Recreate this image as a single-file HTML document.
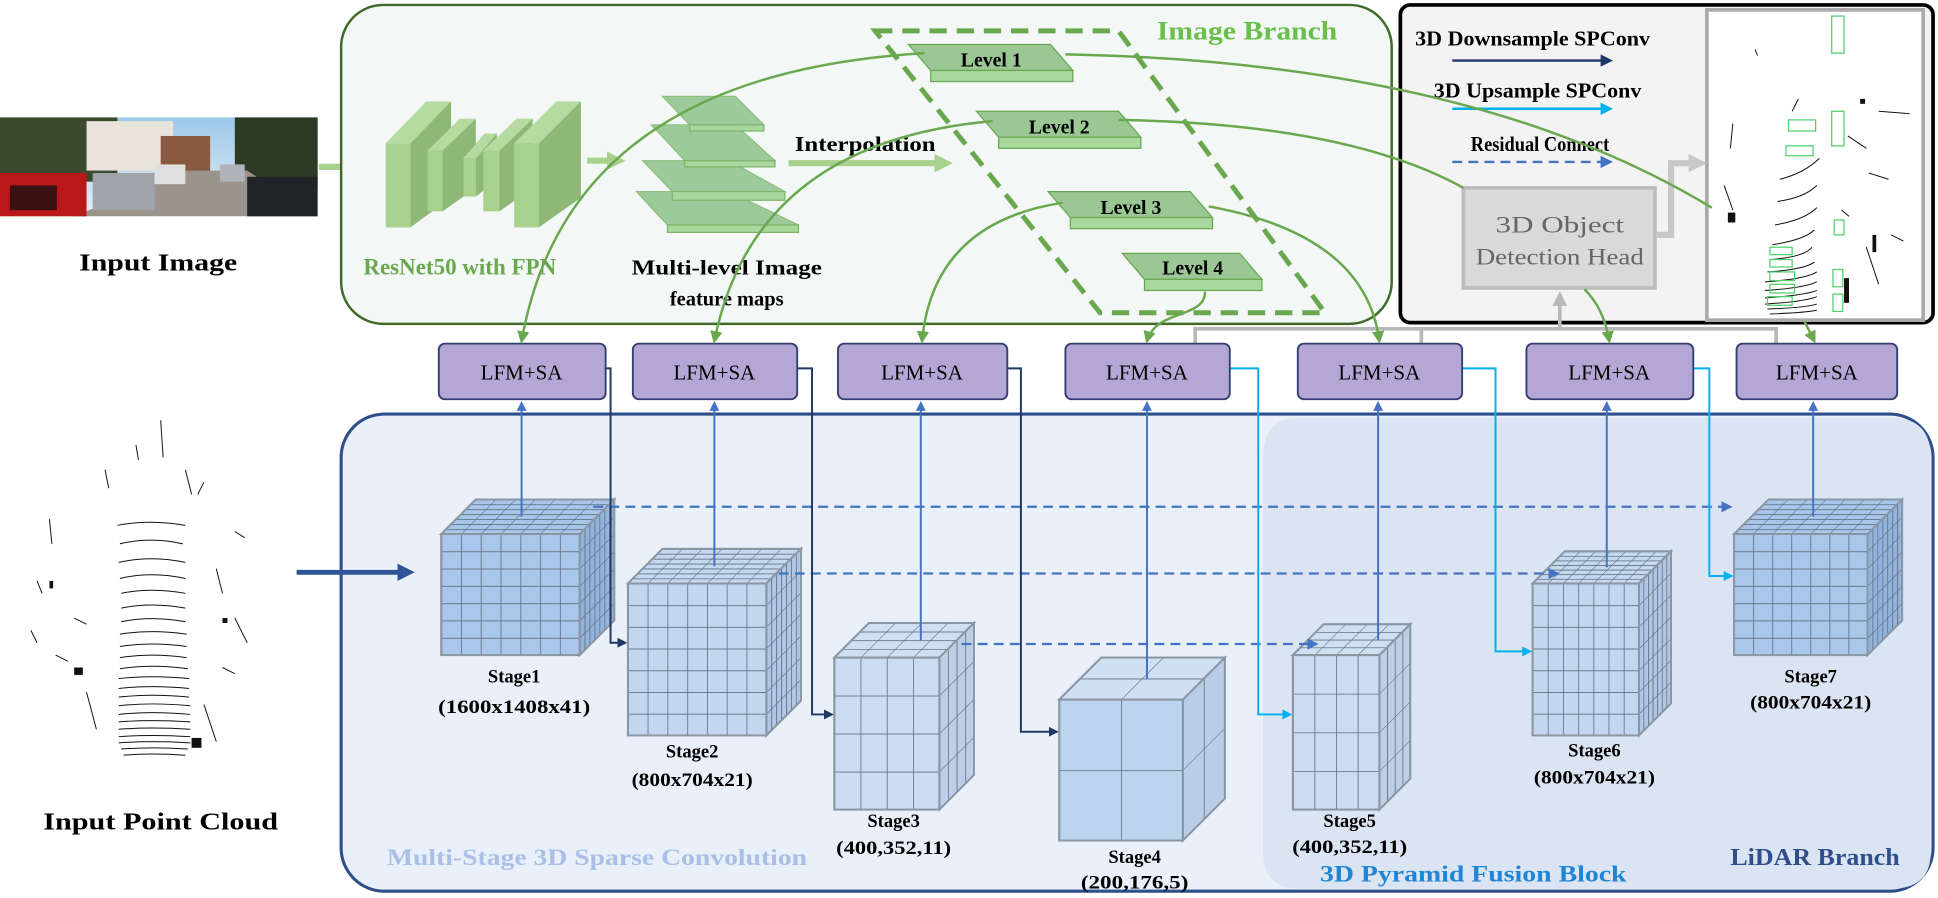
<!DOCTYPE html>
<html><head><meta charset="utf-8">
<style>
html,body{margin:0;padding:0;background:#fff;}
svg{display:block;}
text{font-family:"Liberation Serif",serif;}
.b{font-weight:bold;}
</style></head><body>
<svg width="1938" height="898" viewBox="0 0 1568 726.5" preserveAspectRatio="none" xmlns="http://www.w3.org/2000/svg">
<defs>
<marker id="mg" viewBox="0 0 10 10" refX="8" refY="5" markerWidth="5" markerHeight="5" orient="auto"><path d="M0,0L10,5L0,10z" fill="#6aa84f"/></marker>
<marker id="mb" viewBox="0 0 10 10" refX="8" refY="5" markerWidth="5" markerHeight="5" orient="auto"><path d="M0,0L10,5L0,10z" fill="#4472c4"/></marker>
<marker id="mn" viewBox="0 0 10 10" refX="8" refY="5" markerWidth="5" markerHeight="5" orient="auto"><path d="M0,0L10,5L0,10z" fill="#1f3864"/></marker>
<marker id="mc" viewBox="0 0 10 10" refX="8" refY="5" markerWidth="5" markerHeight="5" orient="auto"><path d="M0,0L10,5L0,10z" fill="#00b0f0"/></marker>
<marker id="mgr" viewBox="0 0 10 10" refX="8" refY="5" markerWidth="4" markerHeight="4" orient="auto"><path d="M0,0L10,5L0,10z" fill="#b8b8b8"/></marker>
<marker id="mlg" viewBox="0 0 10 10" refX="6" refY="5" markerWidth="3" markerHeight="3" orient="auto"><path d="M0,0L10,5L0,10z" fill="#a9d18e"/></marker>
<marker id="mbig" viewBox="0 0 10 10" refX="6" refY="5" markerWidth="3.5" markerHeight="3.5" orient="auto"><path d="M0,0L10,5L0,10z" fill="#2f5597"/></marker>
<marker id="mgrey" viewBox="0 0 10 10" refX="6" refY="5" markerWidth="3" markerHeight="3" orient="auto"><path d="M0,0L10,5L0,10z" fill="#c8c8c8"/></marker>

<g stroke="#5f6f80" stroke-width="1.3" fill="none">
<pattern id="p1f" patternUnits="userSpaceOnUse" x="357" y="432" width="16" height="14"><path d="M0 0H16M0 0V14"/></pattern>
<pattern id="p1t" patternUnits="userSpaceOnUse" x="789" y="432" width="16" height="4" patternTransform="skewX(-45)"><path d="M0 0H16M0 0V4"/></pattern>
<pattern id="p1s" patternUnits="userSpaceOnUse" x="469" y="901" width="4" height="14" patternTransform="skewY(-45)"><path d="M0 0H4M0 0V14"/></pattern>
<pattern id="p2f" patternUnits="userSpaceOnUse" x="508" y="472" width="16" height="17.57"><path d="M0 0H16M0 0V17.57"/></pattern>
<pattern id="p2t" patternUnits="userSpaceOnUse" x="980" y="472" width="16" height="4" patternTransform="skewX(-45)"><path d="M0 0H16M0 0V4"/></pattern>
<pattern id="p2s" patternUnits="userSpaceOnUse" x="620" y="1092" width="4" height="17.57" patternTransform="skewY(-45)"><path d="M0 0H4M0 0V17.57"/></pattern>
<pattern id="p3f" patternUnits="userSpaceOnUse" x="675" y="532" width="21.25" height="30.75"><path d="M0 0H21.25M0 0V30.75"/></pattern>
<pattern id="p3t" patternUnits="userSpaceOnUse" x="1207" y="532" width="21.25" height="7" patternTransform="skewX(-45)"><path d="M0 0H21.25M0 0V7"/></pattern>
<pattern id="p3s" patternUnits="userSpaceOnUse" x="760" y="1292" width="7" height="30.75" patternTransform="skewY(-45)"><path d="M0 0H7M0 0V30.75"/></pattern>
<pattern id="p4f" patternUnits="userSpaceOnUse" x="857" y="566" width="50" height="57"><path d="M0 0H50M0 0V57"/></pattern>
<pattern id="p4t" patternUnits="userSpaceOnUse" x="1423" y="566" width="50" height="17" patternTransform="skewX(-45)"><path d="M0 0H50M0 0V17"/></pattern>
<pattern id="p4s" patternUnits="userSpaceOnUse" x="957" y="1523" width="17" height="57" patternTransform="skewY(-45)"><path d="M0 0H17M0 0V57"/></pattern>
<pattern id="p5f" patternUnits="userSpaceOnUse" x="1046" y="530" width="17.5" height="31.25"><path d="M0 0H17.5M0 0V31.25"/></pattern>
<pattern id="p5t" patternUnits="userSpaceOnUse" x="1576" y="530" width="17.5" height="6.25" patternTransform="skewX(-45)"><path d="M0 0H17.5M0 0V6.25"/></pattern>
<pattern id="p5s" patternUnits="userSpaceOnUse" x="1116" y="1646" width="6.25" height="31.25" patternTransform="skewY(-45)"><path d="M0 0H6.25M0 0V31.25"/></pattern>
<pattern id="p6f" patternUnits="userSpaceOnUse" x="1240" y="472" width="12.29" height="17.57"><path d="M0 0H12.29M0 0V17.57"/></pattern>
<pattern id="p6t" patternUnits="userSpaceOnUse" x="1712" y="472" width="12.29" height="3.71" patternTransform="skewX(-45)"><path d="M0 0H12.29M0 0V3.71"/></pattern>
<pattern id="p6s" patternUnits="userSpaceOnUse" x="1326" y="1798" width="3.71" height="17.57" patternTransform="skewY(-45)"><path d="M0 0H3.71M0 0V17.57"/></pattern>
<pattern id="p7f" patternUnits="userSpaceOnUse" x="1403" y="432" width="15.43" height="14"><path d="M0 0H15.43M0 0V14"/></pattern>
<pattern id="p7t" patternUnits="userSpaceOnUse" x="1835" y="432" width="15.43" height="4" patternTransform="skewX(-45)"><path d="M0 0H15.43M0 0V4"/></pattern>
<pattern id="p7s" patternUnits="userSpaceOnUse" x="1511" y="1943" width="4" height="14" patternTransform="skewY(-45)"><path d="M0 0H4M0 0V14"/></pattern>
</g>
<linearGradient id="sky" x1="0" y1="0" x2="0" y2="1"><stop offset="0" stop-color="#9cc8ea"/><stop offset="1" stop-color="#e6eef2"/></linearGradient>
</defs>

<!-- Input image photo -->
<rect x="0" y="95" width="257" height="80" fill="url(#sky)"/>
<rect x="0" y="95" width="95" height="52" fill="#3b4a2c"/>
<rect x="70" y="98" width="70" height="40" fill="#e8e4dc"/>
<rect x="130" y="110" width="40" height="30" fill="#8a5a40"/>
<rect x="190" y="95" width="67" height="55" fill="#2c3a24"/>
<polygon points="60,175 150,138 200,138 257,175" fill="#9a948c"/>
<rect x="0" y="140" width="70" height="35" fill="#b81818"/>
<rect x="8" y="150" width="38" height="20" fill="#3a1010"/>
<rect x="75" y="140" width="50" height="30" fill="#9ea4aa"/>
<rect x="125" y="133" width="25" height="16" fill="#e0e0e0"/>
<rect x="200" y="143" width="57" height="32" fill="#1f2526"/>
<rect x="178" y="133" width="20" height="14" fill="#b0b4b8"/>
<text x="128" y="219" class="b" font-size="20" text-anchor="middle" textLength="128" lengthAdjust="spacingAndGlyphs">Input Image</text>
<line x1="258" y1="135" x2="305" y2="135" stroke="#a9d18e" stroke-width="5" marker-end="url(#mlg)"/>

<!-- Image Branch box -->
<rect x="276" y="4" width="850" height="258" rx="34" fill="#f3f8f6" stroke="#3f6b2a" stroke-width="2"/>
<text x="1082" y="32" font-size="21" fill="#6abf4b" class="b" text-anchor="end" textLength="146" lengthAdjust="spacingAndGlyphs">Image Branch</text>

<!-- ResNet slabs -->
<g>
<polygon points="312,116 345,82 365,82 332,116" fill="#b6dba0"/>
<rect x="312" y="116" width="20" height="68" fill="#a9d18e"/>
<polygon points="332,116 365,82 365,160 332,184" fill="#8fb877"/>
<polygon points="346,122 372,96 385,96 358,122" fill="#b6dba0"/>
<rect x="346" y="122" width="12" height="49" fill="#a9d18e"/>
<polygon points="358,122 385,96 385,152 358,171" fill="#8fb877"/>
<polygon points="375,128 392,108 402,108 385,128" fill="#b6dba0"/>
<rect x="375" y="128" width="10" height="31" fill="#a9d18e"/>
<polygon points="385,128 402,108 402,146 385,159" fill="#8fb877"/>
<polygon points="391,122 418,96 431,96 404,122" fill="#b6dba0"/>
<rect x="391" y="122" width="13" height="49" fill="#a9d18e"/>
<polygon points="404,122 431,96 431,152 404,171" fill="#8fb877"/>
<polygon points="416,116 450,82 470,82 436,116" fill="#b6dba0"/>
<rect x="416" y="116" width="20" height="68" fill="#a9d18e"/>
<polygon points="436,116 470,82 470,160 436,184" fill="#8fb877"/>
</g>
<text x="372" y="222" font-size="19" fill="#6aa84f" class="b" text-anchor="middle" textLength="156" lengthAdjust="spacingAndGlyphs">ResNet50 with FPN</text>
<line x1="475" y1="130" x2="500" y2="130" stroke="#a9d18e" stroke-width="5" marker-end="url(#mlg)"/>

<!-- feature map slabs -->
<g stroke="#7fb36a" stroke-width="1">
<polygon points="515,155 590,155 646,182 540,182" fill="#8fc38a" opacity="0.85"/><rect x="540" y="182" width="106" height="6" fill="#a9d89e"/>
<polygon points="520,130 590,130 635,155 544,155" fill="#8fc38a" opacity="0.85"/><rect x="544" y="155" width="91" height="7" fill="#a9d89e"/>
<polygon points="527,101 595,101 627,130 554,130" fill="#8fc38a" opacity="0.85"/><rect x="554" y="130" width="73" height="5" fill="#a9d89e"/>
<polygon points="536,78 595,78 618,101 558,101" fill="#8fc38a" opacity="0.85"/><rect x="558" y="101" width="60" height="5" fill="#a9d89e"/>
</g>
<text x="588" y="222" font-size="17" class="b" text-anchor="middle" textLength="154" lengthAdjust="spacingAndGlyphs">Multi-level Image</text>
<text x="588" y="247" font-size="17" class="b" text-anchor="middle" textLength="92" lengthAdjust="spacingAndGlyphs">feature maps</text>
<text x="643" y="122" font-size="17" class="b" textLength="114" lengthAdjust="spacingAndGlyphs">Interpolation</text>
<line x1="638" y1="132" x2="765" y2="132" stroke="#a9d18e" stroke-width="5" marker-end="url(#mlg)"/>

<!-- dashed parallelogram -->
<polygon points="708,25 905,25 1072,253 890,253" fill="none" stroke="#6aa84f" stroke-width="4" stroke-dasharray="14,8"/>

<!-- Levels -->
<g stroke="#6aa84f" stroke-width="1">
<polygon points="735,36 850,36 868,57 753,57" fill="#9bc795"/><rect x="753" y="57" width="115" height="9" fill="#a9d89e"/>
<polygon points="790,90 905,90 923,111 808,111" fill="#9bc795"/><rect x="808" y="111" width="115" height="9" fill="#a9d89e"/>
<polygon points="848,155 963,155 981,176 866,176" fill="#9bc795"/><rect x="866" y="176" width="115" height="9" fill="#a9d89e"/>
<polygon points="908,205 1003,205 1021,226 926,226" fill="#9bc795"/><rect x="926" y="226" width="95" height="9" fill="#a9d89e"/>
</g>
<g font-size="16" class="b" text-anchor="middle">
<text x="802" y="54">Level 1</text>
<text x="857" y="108">Level 2</text>
<text x="915" y="173">Level 3</text>
<text x="965" y="222">Level 4</text>
</g>

<!-- Black legend box -->
<rect x="1133" y="4" width="431" height="257" rx="8" fill="#f3f3f3" stroke="#000" stroke-width="3"/>
<rect x="1381" y="8" width="175" height="251" fill="#fff" stroke="#aaa" stroke-width="3"/>
<text x="1240" y="37" font-size="17" class="b" text-anchor="middle" textLength="190" lengthAdjust="spacingAndGlyphs">3D Downsample SPConv</text>
<line x1="1175" y1="49" x2="1303" y2="49" stroke="#1f3864" stroke-width="2" marker-end="url(#mn)"/>
<text x="1244" y="79" font-size="17" class="b" text-anchor="middle" textLength="168" lengthAdjust="spacingAndGlyphs">3D Upsample SPConv</text>
<line x1="1175" y1="88" x2="1303" y2="88" stroke="#00b0f0" stroke-width="2" marker-end="url(#mc)"/>
<text x="1246" y="122" font-size="17" class="b" text-anchor="middle" textLength="112" lengthAdjust="spacingAndGlyphs">Residual Connect</text>
<line x1="1175" y1="131" x2="1303" y2="131" stroke="#4472c4" stroke-width="2" stroke-dasharray="8,5" marker-end="url(#mb)"/>

<!-- detection head -->
<rect x="1184" y="152" width="155" height="81" fill="#d9d9d9" stroke="#bcbcbc" stroke-width="3"/>
<text x="1262" y="188" font-size="19" fill="#666" text-anchor="middle" textLength="104" lengthAdjust="spacingAndGlyphs">3D Object</text>
<text x="1262" y="214" font-size="19" fill="#666" text-anchor="middle" textLength="136" lengthAdjust="spacingAndGlyphs">Detection Head</text>
<polyline points="1340,190 1352,190 1352,132 1375,132" fill="none" stroke="#c8c8c8" stroke-width="5" marker-end="url(#mgrey)"/>

<!-- right point cloud -->
<g stroke="#111" stroke-width="0.8" fill="none">
<path d="M1440 145Q1460 140 1472 128M1438 163Q1460 160 1470 150M1436 182Q1460 178 1470 168M1434 198Q1460 194 1468 186M1432 210Q1460 208 1466 200M1430 220Q1460 218 1468 212M1428 228Q1460 226 1470 220M1428 235Q1460 233 1470 228M1428 241Q1460 239 1470 235M1428 246Q1460 244 1470 240M1430 250Q1460 249 1470 246M1432 254Q1460 253 1470 251M1400 120L1402 100M1395 150L1402 170M1450 90L1455 80M1512 140L1528 145M1510 200L1520 230M1520 90L1545 92M1495 110L1510 120M1490 170L1496 175M1420 40L1422 45M1530 190L1540 195"/>
</g>
<g fill="#111"><rect x="1398" y="172" width="6" height="8"/><rect x="1492" y="225" width="4" height="20"/><rect x="1505" y="80" width="4" height="4"/><rect x="1515" y="190" width="3" height="14"/></g>
<g stroke="#4fd06a" stroke-width="1" fill="none">
<rect x="1482" y="13" width="10" height="30"/><rect x="1482" y="90" width="10" height="28"/><rect x="1447" y="97" width="22" height="9"/><rect x="1445" y="118" width="22" height="8"/>
<rect x="1432" y="220" width="20" height="7"/><rect x="1432" y="230" width="20" height="7"/><rect x="1430" y="240" width="20" height="7"/><rect x="1432" y="200" width="18" height="6"/><rect x="1432" y="210" width="18" height="6"/><rect x="1483" y="218" width="8" height="14"/><rect x="1483" y="238" width="8" height="14"/><rect x="1484" y="178" width="8" height="12"/>
</g>

<!-- Lidar branch -->
<rect x="276" y="335" width="1288" height="386" rx="35" fill="#e9f0f9" stroke="#2f4f8a" stroke-width="2.5"/>
<path d="M1052 338H1530Q1562 338 1562 370V690Q1562 719 1530 719H1052Q1022 719 1022 690V370Q1022 338 1052 338Z" fill="#dae4f2"/>
<text x="313" y="700" font-size="19" class="b" fill="#a9bfe6" textLength="340" lengthAdjust="spacingAndGlyphs">Multi-Stage 3D Sparse Convolution</text>
<text x="1068" y="713" font-size="19" class="b" fill="#1f86d6" textLength="248" lengthAdjust="spacingAndGlyphs">3D Pyramid Fusion Block</text>
<text x="1537" y="700" font-size="20" class="b" fill="#2f4f8a" text-anchor="end" textLength="137" lengthAdjust="spacingAndGlyphs">LiDAR Branch</text>

<!-- input point cloud -->
<g stroke="#111" stroke-width="0.8" fill="none">
<path d="M95 425Q120 420 150 425M97 440Q122 434 148 440M96 455Q122 449 150 455M97 468Q122 462 150 468M98 480Q122 475 150 480M98 492Q122 487 150 492M98 503Q122 498 150 503M97 513Q122 509 151 513M97 523Q122 519 151 523M97 532Q122 528 151 532M97 541Q122 537 152 541M96 549Q122 546 153 549M96 557Q122 554 153 557M96 564Q122 561 153 564M96 571Q122 568 154 571M96 578Q122 575 154 578M96 584Q122 582 154 584M96 590Q122 588 154 590M96 596Q122 594 154 596M96 601Q122 599 154 601M98 606Q122 604 152 606M100 611Q122 609 150 611"/>
<path d="M40 420L42 440M30 470L34 480M60 500L70 505M175 460L180 480M190 430L198 435M160 400L165 390M85 380L88 395M130 340L132 370M190 500L200 520M70 560L78 590M165 570L175 600M25 510L30 520M45 530L55 535M180 540L190 545M110 360L112 372M150 380L155 400"/>
</g>
<g fill="#111"><rect x="60" y="540" width="7" height="6"/><rect x="155" y="597" width="8" height="8"/><rect x="40" y="470" width="3" height="6"/><rect x="180" y="500" width="4" height="4"/></g>
<text x="130" y="671" font-size="20" class="b" text-anchor="middle" textLength="190" lengthAdjust="spacingAndGlyphs">Input Point Cloud</text>
<line x1="240" y1="463" x2="330" y2="463" stroke="#2f5597" stroke-width="4" marker-end="url(#mbig)"/>

<!-- Cubes -->
<g stroke="#8a96a3" stroke-width="1.5">
<polygon points="357,432 469,432 497,404 385,404" fill="#a8c6ea"/><polygon points="357,432 469,432 497,404 385,404" fill="url(#p1t)"/>
<polygon points="469,432 497,404 497,502 469,530" fill="#93b3dc"/><polygon points="469,432 497,404 497,502 469,530" fill="url(#p1s)"/>
<rect x="357" y="432" width="112" height="98" fill="#a9c7ea"/><rect x="357" y="432" width="112" height="98" fill="url(#p1f)"/>
<polygon points="508,472 620,472 648,444 536,444" fill="#c4d8ef"/><polygon points="508,472 620,472 648,444 536,444" fill="url(#p2t)"/>
<polygon points="620,472 648,444 648,567 620,595" fill="#b0c6e2"/><polygon points="620,472 648,444 648,567 620,595" fill="url(#p2s)"/>
<rect x="508" y="472" width="112" height="123" fill="#c2d7ef"/><rect x="508" y="472" width="112" height="123" fill="url(#p2f)"/>
<polygon points="675,532 760,532 788,504 703,504" fill="#cfe0f3"/><polygon points="675,532 760,532 788,504 703,504" fill="url(#p3t)"/>
<polygon points="760,532 788,504 788,627 760,655" fill="#bccfe6"/><polygon points="760,532 788,504 788,627 760,655" fill="url(#p3s)"/>
<rect x="675" y="532" width="85" height="123" fill="#c9dcf2"/><rect x="675" y="532" width="85" height="123" fill="url(#p3f)"/>
<polygon points="857,566 957,566 991,532 891,532" fill="#cfe0f3"/><polygon points="857,566 957,566 991,532 891,532" fill="url(#p4t)"/>
<polygon points="957,566 991,532 991,646 957,680" fill="#b9cde6"/><polygon points="957,566 991,532 991,646 957,680" fill="url(#p4s)"/>
<rect x="857" y="566" width="100" height="114" fill="#bcd4ee"/><rect x="857" y="566" width="100" height="114" fill="url(#p4f)"/>
<polygon points="1046,530 1116,530 1141,505 1071,505" fill="#cfe0f3"/><polygon points="1046,530 1116,530 1141,505 1071,505" fill="url(#p5t)"/>
<polygon points="1116,530 1141,505 1141,630 1116,655" fill="#bccfe6"/><polygon points="1116,530 1141,505 1141,630 1116,655" fill="url(#p5s)"/>
<rect x="1046" y="530" width="70" height="125" fill="#c9dcf2"/><rect x="1046" y="530" width="70" height="125" fill="url(#p5f)"/>
<polygon points="1240,472 1326,472 1352,446 1266,446" fill="#c4d8ef"/><polygon points="1240,472 1326,472 1352,446 1266,446" fill="url(#p6t)"/>
<polygon points="1326,472 1352,446 1352,569 1326,595" fill="#b0c6e2"/><polygon points="1326,472 1352,446 1352,569 1326,595" fill="url(#p6s)"/>
<rect x="1240" y="472" width="86" height="123" fill="#c2d7ef"/><rect x="1240" y="472" width="86" height="123" fill="url(#p6f)"/>
<polygon points="1403,432 1511,432 1539,404 1431,404" fill="#a8c6ea"/><polygon points="1403,432 1511,432 1539,404 1431,404" fill="url(#p7t)"/>
<polygon points="1511,432 1539,404 1539,502 1511,530" fill="#93b3dc"/><polygon points="1511,432 1539,404 1539,502 1511,530" fill="url(#p7s)"/>
<rect x="1403" y="432" width="108" height="98" fill="#a9c7ea"/><rect x="1403" y="432" width="108" height="98" fill="url(#p7f)"/>
</g>

<g font-size="15" class="b" text-anchor="middle">
<text x="416" y="552">Stage1</text><text x="416" y="577" textLength="123" lengthAdjust="spacingAndGlyphs">(1600x1408x41)</text>
<text x="560" y="613">Stage2</text><text x="560" y="636" textLength="98" lengthAdjust="spacingAndGlyphs">(800x704x21)</text>
<text x="723" y="669">Stage3</text><text x="723" y="691" textLength="93" lengthAdjust="spacingAndGlyphs">(400,352,11)</text>
<text x="918" y="698">Stage4</text><text x="918" y="719" textLength="87" lengthAdjust="spacingAndGlyphs">(200,176,5)</text>
<text x="1092" y="669">Stage5</text><text x="1092" y="690" textLength="93" lengthAdjust="spacingAndGlyphs">(400,352,11)</text>
<text x="1290" y="612">Stage6</text><text x="1290" y="634" textLength="98" lengthAdjust="spacingAndGlyphs">(800x704x21)</text>
<text x="1465" y="552">Stage7</text><text x="1465" y="573" textLength="98" lengthAdjust="spacingAndGlyphs">(800x704x21)</text>
</g>

<g stroke="#4472c4" stroke-width="1.6" fill="none">
<line x1="422" y1="418" x2="422" y2="326" marker-end="url(#mb)"/>
<line x1="578" y1="458" x2="578" y2="326" marker-end="url(#mb)"/>
<line x1="745" y1="518" x2="745" y2="326" marker-end="url(#mb)"/>
<line x1="928" y1="549" x2="928" y2="326" marker-end="url(#mb)"/>
<line x1="1115" y1="518" x2="1115" y2="326" marker-end="url(#mb)"/>
<line x1="1300" y1="459" x2="1300" y2="326" marker-end="url(#mb)"/>
<line x1="1467" y1="418" x2="1467" y2="326" marker-end="url(#mb)"/>
</g>
<g stroke="#4472c4" stroke-width="1.8" fill="none" stroke-dasharray="8,5">
<line x1="480" y1="410" x2="1400" y2="410" marker-end="url(#mb)"/>
<line x1="630" y1="464" x2="1260" y2="464" marker-end="url(#mb)"/>
<line x1="778" y1="521" x2="1065" y2="521" marker-end="url(#mb)"/>
</g>
<g stroke="#1f3864" stroke-width="1.6" fill="none">
<polyline points="490,298 494,298 494,520 506,520" marker-end="url(#mn)"/>
<polyline points="645,298 657,298 657,578 673,578" marker-end="url(#mn)"/>
<polyline points="815,298 826,298 826,592 855,592" marker-end="url(#mn)"/>
</g>
<g stroke="#00b0f0" stroke-width="1.6" fill="none">
<polyline points="995,298 1018,298 1018,578 1044,578" marker-end="url(#mc)"/>
<polyline points="1183,298 1210,298 1210,527 1238,527" marker-end="url(#mc)"/>
<polyline points="1370,298 1383,298 1383,466 1401,466" marker-end="url(#mc)"/>
</g>

<g stroke="#b8b8b8" stroke-width="3" fill="none">
<polyline points="967,278 967,266 1437,266 1437,278"/>
<line x1="1150" y1="266" x2="1150" y2="278"/>
<line x1="1262" y1="266" x2="1262" y2="238" marker-end="url(#mgr)"/>
</g>

<g fill="#b4a7d6" stroke="#2f3f6f" stroke-width="1.5">
<rect x="355" y="278" width="135" height="45" rx="5"/>
<rect x="512" y="278" width="133" height="45" rx="5"/>
<rect x="678" y="278" width="137" height="45" rx="5"/>
<rect x="862" y="278" width="133" height="45" rx="5"/>
<rect x="1050" y="278" width="133" height="45" rx="5"/>
<rect x="1235" y="278" width="135" height="45" rx="5"/>
<rect x="1405" y="278" width="130" height="45" rx="5"/>
</g>
<g font-size="17" text-anchor="middle">
<text x="422" y="307">LFM+SA</text><text x="578" y="307">LFM+SA</text><text x="746" y="307">LFM+SA</text>
<text x="928" y="307">LFM+SA</text><text x="1116" y="307">LFM+SA</text><text x="1302" y="307">LFM+SA</text><text x="1470" y="307">LFM+SA</text>
</g>

<g stroke="#6aa84f" stroke-width="2" fill="none">
<path d="M748 43Q460 60 422 276" marker-end="url(#mg)"/>
<path d="M803 98Q610 115 578 276" marker-end="url(#mg)"/>
<path d="M860 164Q755 180 746 276" marker-end="url(#mg)"/>
<path d="M975 236C975 258 935 250 928 276" marker-end="url(#mg)"/>
<path d="M978 167Q1105 190 1116 276" marker-end="url(#mg)"/>
<path d="M905 97Q1090 100 1184 152"/>
<path d="M1282 234Q1298 250 1302 276" marker-end="url(#mg)"/>
<path d="M862 44Q1190 50 1385 168"/>
<path d="M1460 260L1468 276" marker-end="url(#mg)"/>
</g>
</svg>
</body></html>
